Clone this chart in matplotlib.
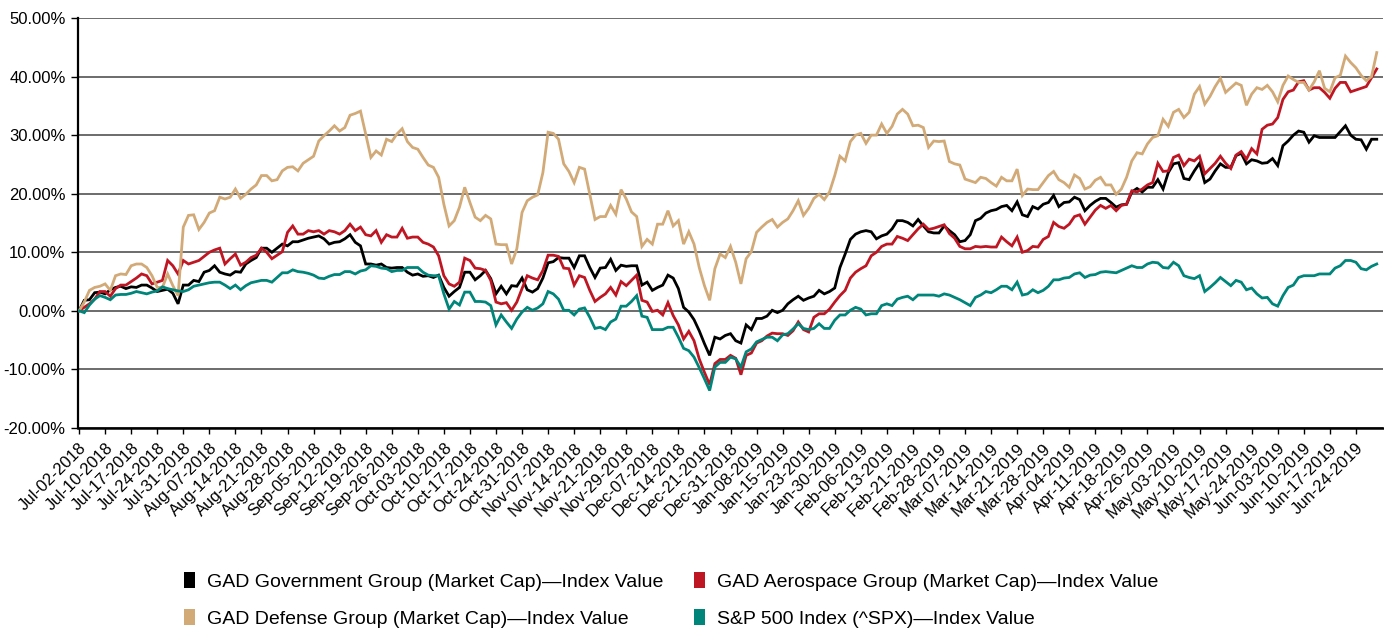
import numpy as np
import matplotlib
matplotlib.use("Agg")
import matplotlib.pyplot as plt
from matplotlib.patches import Patch

plt.rcParams['font.family'] = ['Liberation Sans', 'DejaVu Sans']

tick_labels = ["Jul-02-2018", "Jul-10-2018", "Jul-17-2018", "Jul-24-2018", "Jul-31-2018",
               "Aug-07-2018", "Aug-14-2018", "Aug-21-2018", "Aug-28-2018", "Sep-05-2018",
               "Sep-12-2018", "Sep-19-2018", "Sep-26-2018", "Oct-03-2018", "Oct-10-2018",
               "Oct-17-2018", "Oct-24-2018", "Oct-31-2018", "Nov-07-2018", "Nov-14-2018",
               "Nov-21-2018", "Nov-29-2018", "Dec-07-2018", "Dec-14-2018", "Dec-21-2018",
               "Dec-31-2018", "Jan-08-2019", "Jan-15-2019", "Jan-23-2019", "Jan-30-2019",
               "Feb-06-2019", "Feb-13-2019", "Feb-21-2019", "Feb-28-2019", "Mar-07-2019",
               "Mar-14-2019", "Mar-21-2019", "Mar-28-2019", "Apr-04-2019", "Apr-11-2019",
               "Apr-18-2019", "Apr-26-2019", "May-03-2019", "May-10-2019", "May-17-2019",
               "May-24-2019", "Jun-03-2019", "Jun-10-2019", "Jun-17-2019", "Jun-24-2019"]
tick_step = 5  # trading days between labelled ticks

series_names = ["GAD Government Group (Market Cap)\u2014Index Value",
                "GAD Aerospace Group (Market Cap)\u2014Index Value",
                "GAD Defense Group (Market Cap)\u2014Index Value",
                "S&P 500 Index (^SPX)\u2014Index Value"]

government = [
    0.0, 1.8, 1.9, 3.1, 3.2, 2.9, 3.6, 4.0, 4.2, 3.8,
    4.1, 4.0, 4.4, 4.4, 3.9, 3.3, 3.5, 3.7, 3.0, 1.2,
    4.4, 4.4, 5.2, 5.0, 6.6, 6.9, 7.7, 6.6, 6.3, 6.1,
    6.7, 6.6, 8.0, 8.6, 9.1, 10.7, 10.7, 10.0, 10.7, 11.4,
    11.1, 11.8, 11.8, 12.1, 12.4, 12.6, 12.8, 12.3, 11.4, 11.7,
    11.8, 12.3, 13.0, 11.7, 11.1, 8.0, 8.0, 7.8, 8.0, 7.4,
    7.3, 7.4, 7.4, 6.6, 6.1, 6.3, 5.9, 6.0, 5.7, 6.1,
    4.0, 2.5, 3.3, 4.0, 6.6, 6.6, 5.3, 6.0, 6.9, 5.5,
    2.9, 4.2, 2.9, 4.3, 4.2, 5.6, 3.6, 3.2, 3.8, 5.6,
    8.2, 8.4, 9.1, 9.0, 9.0, 7.4, 9.4, 9.4, 7.4, 5.7,
    7.3, 7.4, 8.8, 6.9, 7.8, 7.6, 7.7, 7.7, 4.4, 4.9,
    3.5, 4.0, 4.4, 6.1, 5.6, 3.8, 0.6, -0.2, -1.5, -3.4,
    -5.6, -7.6, -4.5, -4.8, -4.2, -3.9, -5.1, -5.5, -2.4, -3.2,
    -1.3, -1.3, -0.9, 0.1, -0.3, 0.1, 1.2, 1.9, 2.5, 1.8,
    2.2, 2.5, 3.5, 2.9, 3.3, 3.9, 7.4, 9.7, 12.2, 13.1,
    13.5, 13.7, 13.5, 12.3, 12.8, 13.1, 14.0, 15.4, 15.4, 15.1,
    14.5, 15.6, 14.5, 13.5, 13.3, 13.3, 14.5, 13.7, 13.0, 11.8,
    12.0, 13.0, 15.4, 15.8, 16.7, 17.1, 17.3, 17.8, 18.0, 17.1,
    18.6, 16.4, 16.1, 17.8, 17.4, 18.2, 18.5, 19.7, 17.8, 18.5,
    18.6, 19.4, 19.0, 17.1, 18.0, 18.7, 19.2, 19.2, 18.5, 17.7,
    18.1, 18.2, 20.3, 20.9, 20.3, 21.1, 21.1, 22.4, 20.8, 23.6,
    25.1, 25.3, 22.6, 22.4, 23.9, 25.2, 21.9, 22.5, 23.9, 25.1,
    24.5, 24.5, 26.5, 26.9, 25.1, 25.8, 25.6, 25.2, 25.3, 26.0,
    24.8, 28.2, 29.0, 30.0, 30.7, 30.5, 28.8, 29.9, 29.6, 29.6,
    29.6, 29.6, 30.6, 31.6, 30.0, 29.3, 29.2, 27.6, 29.3, 29.3]

aerospace = [
    0.0, 0.6, 1.2, 2.0, 3.3, 3.3, 2.5, 3.8, 4.4, 4.4,
    5.0, 5.6, 6.3, 6.0, 4.6, 4.9, 5.2, 8.6, 7.7, 6.3,
    8.6, 8.0, 8.3, 8.6, 9.3, 10.0, 10.4, 10.7, 8.0, 8.9,
    9.7, 7.8, 8.3, 9.1, 9.5, 10.7, 10.0, 8.9, 9.5, 10.1,
    13.4, 14.5, 13.1, 13.1, 13.7, 13.5, 13.7, 13.1, 13.7, 13.5,
    13.1, 13.7, 14.8, 13.7, 14.3, 13.0, 12.8, 13.7, 11.7, 13.0,
    12.6, 12.6, 14.1, 12.4, 12.6, 12.6, 11.7, 11.4, 10.9, 9.4,
    6.0, 4.6, 4.2, 4.9, 9.0, 8.6, 7.3, 7.2, 6.9, 5.2,
    1.5, 1.2, 1.4, 0.1, 1.5, 3.8, 6.0, 5.6, 5.3, 6.9,
    9.5, 9.5, 9.3, 7.3, 7.2, 4.4, 6.0, 5.7, 3.5, 1.6,
    2.3, 2.9, 4.0, 2.7, 5.0, 4.3, 5.2, 6.1, 1.8, 1.5,
    -0.1, 0.1, -0.7, 1.4, -0.8, -2.4, -4.8, -3.5, -5.1, -8.2,
    -10.5, -12.6, -9.0, -8.3, -8.3, -7.6, -8.1, -10.9, -7.6, -7.2,
    -5.5, -5.1, -4.3, -3.8, -3.9, -3.9, -4.2, -3.4, -1.9, -3.2,
    -3.6, -1.1, -0.5, -0.5, 0.3, 1.5, 2.6, 3.5, 5.6, 6.6,
    7.2, 7.7, 9.4, 10.0, 11.0, 11.4, 11.4, 12.7, 12.4, 12.0,
    13.0, 14.0, 14.8, 13.9, 14.1, 14.4, 14.7, 13.2, 12.4, 11.0,
    10.6, 10.6, 11.0, 10.9, 11.0, 10.9, 10.9, 12.6, 11.8, 11.1,
    12.6, 10.0, 10.3, 11.0, 10.9, 12.2, 12.7, 15.1, 14.4, 14.1,
    14.8, 16.1, 16.4, 14.8, 16.0, 17.2, 18.0, 17.5, 18.0, 17.1,
    18.0, 18.2, 20.5, 20.3, 20.8, 21.5, 21.9, 25.2, 23.8, 23.9,
    26.2, 26.6, 24.8, 25.9, 25.6, 26.4, 23.4, 24.3, 25.2, 26.4,
    25.2, 24.3, 26.6, 27.2, 25.9, 27.7, 26.8, 31.0, 31.7, 31.9,
    33.0, 36.1, 37.4, 37.7, 39.1, 39.3, 37.7, 38.1, 38.1, 37.3,
    36.3, 38.0, 39.0, 39.0, 37.4, 37.7, 38.0, 38.3, 39.8, 41.3]

defense = [
    0.0, 1.5, 3.5, 4.0, 4.2, 4.6, 3.5, 6.0, 6.3, 6.2,
    7.7, 8.0, 8.0, 7.4, 6.0, 4.0, 4.0, 6.3, 4.3, 2.6,
    14.3, 16.3, 16.4, 13.9, 15.1, 16.7, 17.1, 19.4, 19.1, 19.4,
    20.8, 19.2, 19.9, 20.8, 21.5, 23.1, 23.1, 22.2, 22.4, 23.9,
    24.5, 24.6, 23.9, 25.2, 25.8, 26.4, 29.0, 29.9, 30.7, 31.6,
    30.7, 31.3, 33.4, 33.7, 34.1, 30.2, 26.2, 27.3, 26.6, 29.3,
    28.9, 30.2, 31.1, 28.9, 27.9, 27.6, 26.2, 24.9, 24.5, 22.8,
    18.2, 14.5, 15.4, 17.7, 21.1, 18.5, 16.0, 15.4, 16.3, 15.7,
    11.4, 11.3, 11.3, 8.0, 10.6, 16.8, 18.8, 19.4, 19.8, 23.6,
    30.5, 30.3, 29.3, 25.1, 23.8, 21.9, 24.5, 24.2, 19.9, 15.6,
    16.1, 16.1, 18.0, 16.5, 20.7, 19.1, 16.9, 16.1, 11.0, 12.2,
    11.4, 14.8, 14.8, 17.1, 14.5, 15.4, 11.4, 13.5, 11.4, 7.4,
    4.3, 1.8, 7.2, 9.7, 9.1, 11.0, 8.3, 4.6, 8.9, 10.1,
    13.4, 14.3, 15.1, 15.6, 14.3, 15.1, 15.7, 17.1, 18.8, 16.3,
    17.5, 19.2, 19.9, 19.0, 20.3, 23.1, 26.4, 25.6, 28.9, 30.0,
    30.3, 28.6, 30.0, 30.0, 31.9, 30.3, 31.5, 33.6, 34.4, 33.6,
    31.6, 31.7, 31.3, 27.9, 29.0, 28.9, 29.0, 25.5, 25.1, 24.9,
    22.5, 22.2, 21.9, 22.8, 22.6, 21.9, 21.3, 22.8, 22.2, 22.2,
    24.2, 19.7, 20.8, 20.7, 20.7, 21.9, 23.1, 23.8, 22.4, 21.9,
    21.1, 23.2, 22.6, 20.8, 21.2, 22.3, 22.8, 21.5, 21.5, 19.9,
    20.8, 22.8, 25.6, 27.0, 26.8, 28.5, 29.6, 29.9, 32.7, 31.5,
    33.9, 34.4, 33.0, 33.9, 37.0, 38.3, 35.3, 36.6, 38.3, 39.7,
    37.3, 38.1, 38.9, 38.5, 35.1, 37.0, 38.1, 37.8, 38.5, 37.4,
    35.7, 38.5, 40.1, 39.5, 39.0, 39.0, 37.7, 39.1, 41.0, 38.0,
    37.4, 39.8, 40.2, 43.5, 42.4, 41.5, 40.2, 39.3, 40.0, 44.1]

spx = [
    0.0, -0.3, 1.0, 2.0, 2.6, 2.3, 1.9, 2.7, 2.8, 2.8,
    3.0, 3.3, 3.1, 2.9, 3.2, 3.4, 4.1, 3.8, 3.6, 3.4,
    3.3, 3.6, 4.2, 4.4, 4.6, 4.8, 4.9, 4.9, 4.4, 3.8,
    4.4, 3.6, 4.3, 4.8, 5.0, 5.2, 5.2, 4.9, 5.7, 6.5,
    6.5, 7.0, 6.7, 6.6, 6.4, 6.1, 5.6, 5.5, 5.9, 6.2,
    6.2, 6.7, 6.7, 6.3, 6.8, 7.0, 7.7, 7.6, 7.3, 7.2,
    6.7, 6.9, 6.9, 7.4, 7.4, 7.4, 6.6, 6.1, 6.0, 6.0,
    2.9, 0.3, 1.6, 1.0, 3.2, 3.2, 1.6, 1.6, 1.5, 0.9,
    -2.4, -0.7, -1.9, -3.0, -1.4, -0.2, 0.6, 0.1, 0.5, 1.2,
    3.3, 2.9, 2.0, 0.1, 0.1, -0.7, 0.3, 0.5, -1.1, -3.0,
    -2.8, -3.2, -1.9, -1.4, 0.8, 0.8, 1.6, 2.6, -0.9, -1.1,
    -3.2, -3.2, -3.2, -2.8, -2.8, -4.5, -6.4, -6.8, -7.9, -9.7,
    -11.6, -13.6, -9.6, -8.8, -8.8, -7.9, -8.2, -9.6, -7.0, -6.5,
    -5.3, -4.9, -4.5, -4.5, -5.1, -4.1, -3.9, -3.1, -2.2, -3.0,
    -3.2, -3.0, -2.2, -3.0, -3.0, -1.6, -0.7, -0.7, 0.1, 0.6,
    0.3, -0.7, -0.5, -0.5, 0.9, 1.2, 0.9, 2.0, 2.3, 2.5,
    1.9, 2.7, 2.7, 2.7, 2.7, 2.5, 2.9, 2.7, 2.3, 1.9,
    1.4, 0.9, 2.3, 2.7, 3.3, 3.1, 3.6, 4.2, 4.2, 3.6,
    4.9, 2.7, 2.9, 3.6, 3.1, 3.5, 4.2, 5.3, 5.3, 5.6,
    5.7, 6.3, 6.5, 5.7, 6.1, 6.2, 6.6, 6.7, 6.6, 6.5,
    6.9, 7.3, 7.7, 7.4, 7.4, 8.0, 8.3, 8.2, 7.4, 7.3,
    8.3, 7.7, 6.0, 5.7, 5.5, 6.0, 3.3, 4.0, 4.8, 5.7,
    5.0, 4.3, 5.2, 4.9, 3.6, 3.9, 2.9, 2.2, 2.3, 1.2,
    0.8, 2.6, 4.0, 4.4, 5.7, 6.0, 6.0, 6.0, 6.3, 6.3,
    6.3, 7.3, 7.7, 8.6, 8.6, 8.3, 7.2, 7.0, 7.6, 8.0]

colors = ["#000000", "#BE1622", "#D2AA78", "#00857A"]
y_ticks = [-20, -10, 0, 10, 20, 30, 40, 50]

W, H = 1384, 633
fig = plt.figure(figsize=(W / 100, H / 100), dpi=100)
ax = fig.add_axes([78 / W, 1 - 428 / H, (1383 - 78) / W, (428 - 18) / H])

n = len(government)
x = np.arange(n)
for vals, c in zip([government, aerospace, defense, spx], colors):
    ax.plot(x, vals, color=c, lw=2.0, solid_joinstyle='miter', zorder=3)

ax.set_ylim(-20, 50)
ax.set_xlim(-0.2, n - 1 + 1.2)
ax.set_yticks(y_ticks)
ax.set_yticklabels([f"{v:.2f}%" for v in y_ticks], fontsize=12)
ax.set_xticks(np.arange(0, len(tick_labels) * tick_step, tick_step))
ax.set_xticklabels(tick_labels, rotation=45, ha='right', va='top',
                   rotation_mode='anchor', fontsize=12)
ax.yaxis.grid(True, color='#444444', lw=1.1, zorder=1)
ax.set_axisbelow(True)
for s in ['top', 'right']:
    ax.spines[s].set_visible(False)
ax.spines['left'].set_linewidth(1.6)
ax.spines['bottom'].set_linewidth(1.8)
ax.spines['bottom'].set_zorder(4)
ax.tick_params(axis='y', length=5, width=1.0, pad=4, colors='black')
ax.tick_params(axis='x', length=4, width=1.0, pad=5)

handles = [Patch(facecolor=c, edgecolor='none') for c in colors]
order = [0, 2, 1, 3]
leg = fig.legend([handles[i] for i in order], [series_names[i] for i in order],
                 loc='center', bbox_to_anchor=(0.485, 0.052), ncol=2, frameon=False,
                 fontsize=14, handlelength=0.55, handleheight=0.85, handletextpad=0.6,
                 labelspacing=0.95, columnspacing=1.6)

fig.savefig("out.png", dpi=100)
